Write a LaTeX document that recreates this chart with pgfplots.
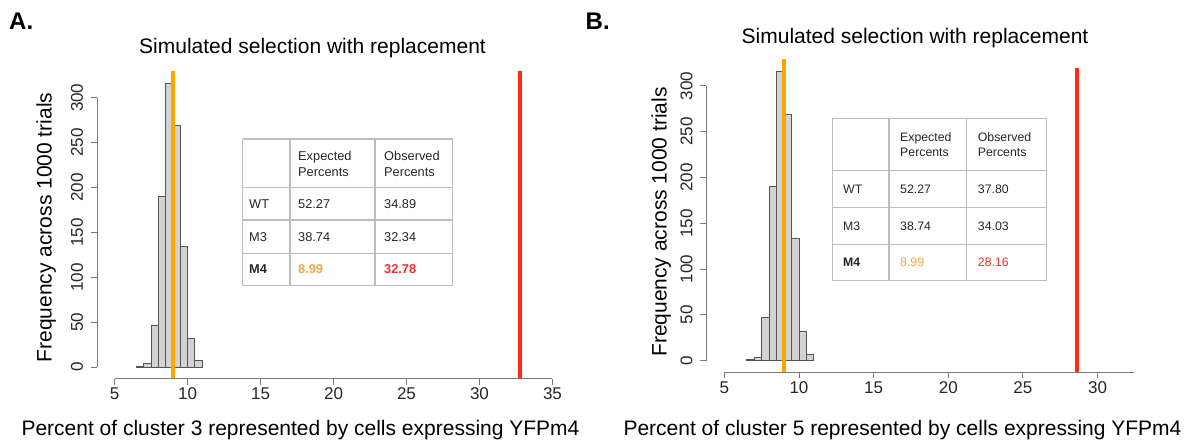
\documentclass[border=0pt]{standalone}
\usepackage{fontspec}
\setmainfont{Liberation Sans}
\usepackage{pgfplots}
\usepackage{pgfplotstable}
\pgfplotsset{compat=1.18}

\definecolor{histfill}{HTML}{D3D3D3}
\definecolor{histedge}{HTML}{555555}
\definecolor{axisgray}{HTML}{7A7A7A}
\definecolor{vorange}{HTML}{FFA500}
\definecolor{vred}{HTML}{FF2A12}
\definecolor{tabline}{HTML}{BDBDBD}
\definecolor{taborange}{HTML}{F6A54A}
\definecolor{tabred}{HTML}{EE3030}

% histogram of simulated percents (bin left edge, count); last row closes the interval
\pgfplotstableread{
left count
6.5 1
7.0 4
7.5 47
8.0 190
8.5 316
9.0 269
9.5 134
10.0 32
10.5 7
11.0 7
}\histdata

\pgfplotsset{rplot/.style={
  scale only axis, axis lines*=left, axis line style={draw=none}, clip=false,
  ymin=-12.68, ymax=329.68, xmin=3.8, xmax=36.2,
  ytick={0,50,...,300},
  tick align=outside, major tick length=6pt,
  tick style={draw=axisgray, line width=0.9pt},
  tick label style={font=\fontsize{17}{20}\selectfont, text=black!85},
  /pgf/number format/assume math mode=true,
  yticklabel style={rotate=90, anchor=center, yshift=14pt},
  xticklabel style={anchor=center, yshift=-9pt},
}}

\newcommand{\labfont}{\fontsize{21}{25}\selectfont}

\begin{document}
\begin{tikzpicture}
\useasboundingbox (0,0) rectangle (1199pt,-442pt);

% ---------- panel A ----------
\node[anchor=base west, inner sep=0] at (9pt,-29.3pt) {\fontsize{24}{28}\selectfont\bfseries A.};
\node[anchor=base, inner sep=0] at (312.5pt,-53pt) {\labfont Simulated selection with replacement};
\node[anchor=base, inner sep=0, rotate=90] at (51.7pt,-227.5pt) {\labfont Frequency across 1000 trials};
\node[anchor=base, inner sep=0] at (300.5pt,-435pt) {\labfont Percent of cluster 3 represented by cells expressing YFPm4};

\begin{axis}[rplot, width=473pt, height=307.4pt, at={(97pt,-378.5pt)}, anchor=south west,
  xtick={5,10,...,35}]
\addplot[ybar interval, fill=histfill, draw=histedge, line width=0.8pt] table[x=left, y=count] {\histdata};
\addplot[vorange, line width=3.5pt] coordinates {(8.99,-12.68) (8.99,329.68)};
\addplot[vred, line width=4pt] coordinates {(32.78,-12.68) (32.78,329.68)};
\draw[axisgray, line width=0.9pt] (axis cs:5,-12.68) -- (axis cs:35,-12.68);
\draw[axisgray, line width=0.9pt] (axis cs:3.8,0) -- (axis cs:3.8,300);
\end{axis}

% table A
\begin{scope}[tabline, line width=1.1pt]
\foreach \x in {242.7,290,375,452.7} \draw (\x pt,-139pt) -- (\x pt,-285.7pt);
\foreach \y in {139,187.3,220,253.3,285.7} \draw (242.7pt,-\y pt) -- (452.7pt,-\y pt);
\end{scope}
\begin{scope}[every node/.style={anchor=base west, inner sep=0, font=\fontsize{12.8}{15}\selectfont, text=black!85}]
\node at (298pt,-160.6pt) {Expected};
\node at (298pt,-176.3pt) {Percents};
\node at (384pt,-160.6pt) {Observed};
\node at (384pt,-176.3pt) {Percents};
\node at (249pt,-208.6pt) {WT};
\node at (298pt,-208.6pt) {52.27};
\node at (384pt,-208.6pt) {34.89};
\node at (249pt,-241.3pt) {M3};
\node at (298pt,-241.3pt) {38.74};
\node at (384pt,-241.3pt) {32.34};
\node at (249pt,-273.9pt) {\bfseries M4};
\node[text=taborange] at (298pt,-273.9pt) {\bfseries 8.99};
\node[text=tabred] at (384pt,-273.9pt) {\bfseries 32.78};
\end{scope}

% ---------- panel B ----------
\node[anchor=base west, inner sep=0] at (585.5pt,-29.3pt) {\fontsize{24}{28}\selectfont\bfseries B.};
\node[anchor=base, inner sep=0] at (915pt,-43pt) {\labfont Simulated selection with replacement};
\node[anchor=base, inner sep=0, rotate=90] at (666.7pt,-222pt) {\labfont Frequency across 1000 trials};
\node[anchor=base, inner sep=0] at (902.5pt,-435pt) {\labfont Percent of cluster 5 represented by cells expressing YFPm4};

\begin{axis}[rplot, width=483.7pt, height=313.6pt, at={(706.4pt,-372.3pt)}, anchor=south west,
  xtick={5,10,...,30}]
\addplot[ybar interval, fill=histfill, draw=histedge, line width=0.8pt] table[x=left, y=count] {\histdata};
\addplot[vorange, line width=3.5pt] coordinates {(8.99,-12.68) (8.99,329.68)};
\addplot[vred, line width=4pt] coordinates {(28.64,-12.68) (28.64,320)};
\draw[axisgray, line width=0.9pt] (axis cs:5,-12.68) -- (axis cs:32.44,-12.68);
\draw[axisgray, line width=0.9pt] (axis cs:3.8,0) -- (axis cs:3.8,300);
\end{axis}

% table B
\begin{scope}[tabline, line width=1.1pt]
\foreach \x in {832.7,889,966.7,1046.7} \draw (\x pt,-118.3pt) -- (\x pt,-280.7pt);
\foreach \y in {118.3,170.7,207.3,244.7,280.7} \draw (832.7pt,-\y pt) -- (1046.7pt,-\y pt);
\end{scope}
\begin{scope}[every node/.style={anchor=base west, inner sep=0, font=\fontsize{12.3}{15}\selectfont, text=black!85}]
\node at (900pt,-141.1pt) {Expected};
\node at (900pt,-156.1pt) {Percents};
\node at (977.7pt,-141.1pt) {Observed};
\node at (977.7pt,-156.1pt) {Percents};
\node at (843pt,-193.4pt) {WT};
\node at (900pt,-193.4pt) {52.27};
\node at (977.7pt,-193.4pt) {37.80};
\node at (843pt,-230.1pt) {M3};
\node at (900pt,-230.1pt) {38.74};
\node at (977.7pt,-230.1pt) {34.03};
\node at (843pt,-266.9pt) {\bfseries M4};
\node[text=taborange] at (900pt,-266.9pt) {8.99};
\node[text=tabred] at (977.7pt,-266.9pt) {28.16};
\end{scope}
\end{tikzpicture}
\end{document}
